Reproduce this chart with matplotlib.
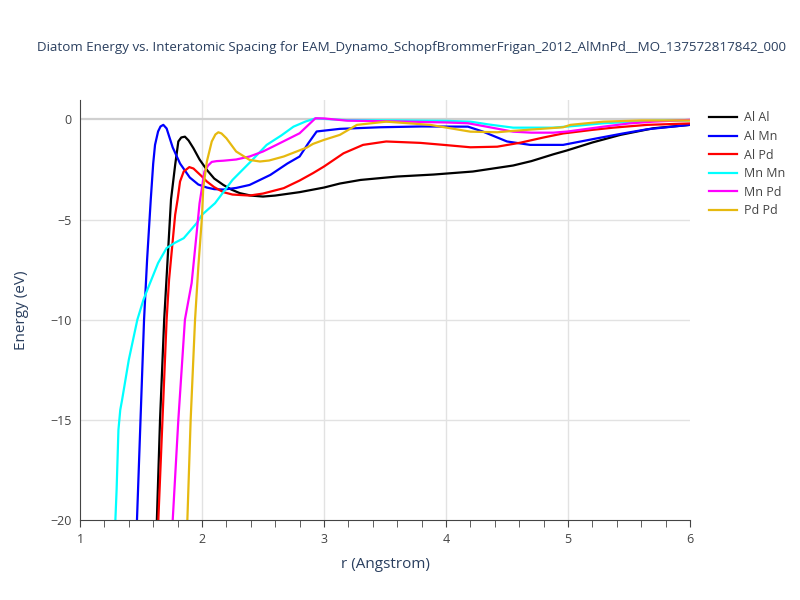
import numpy as np
import matplotlib
matplotlib.use("Agg")
import matplotlib.pyplot as plt
from matplotlib.ticker import MultipleLocator

# Energía del dímero vs. distancia interatómica
r_alal = [1.63, 1.656, 1.69, 1.746, 1.78, 1.806, 1.83, 1.86, 1.89, 1.93, 1.98, 2.04, 2.1, 2.175,
          2.24, 2.31, 2.4, 2.5, 2.6, 2.8, 3.0, 3.13, 3.3, 3.6, 3.9, 4.22, 4.55, 4.7, 4.88, 4.99,
          5.2, 5.43, 5.7, 6.0]
e_alal = [-20.0, -15.0, -10.0, -4.0, -2.27, -1.1, -0.9, -0.86, -1.05, -1.44, -2.0, -2.52, -2.95,
          -3.27, -3.5, -3.68, -3.8, -3.85, -3.8, -3.63, -3.4, -3.2, -3.02, -2.85, -2.75, -2.6,
          -2.3, -2.08, -1.74, -1.55, -1.15, -0.77, -0.44, -0.27]

r_almn = [1.467, 1.525, 1.55, 1.58, 1.6, 1.615, 1.64, 1.66, 1.683, 1.71, 1.76, 1.82, 1.9, 1.97,
          2.04, 2.1, 2.175, 2.28, 2.39, 2.56, 2.7, 2.8, 2.87, 2.94, 3.13, 3.46, 3.8, 4.18, 4.3,
          4.5, 4.69, 4.96, 5.24, 5.45, 5.65, 6.0]
e_almn = [-20.0, -10.0, -7.0, -4.0, -2.2, -1.27, -0.6, -0.35, -0.27, -0.45, -1.4, -2.2, -2.9,
          -3.25, -3.4, -3.48, -3.5, -3.42, -3.27, -2.77, -2.2, -1.85, -1.2, -0.6, -0.47, -0.39,
          -0.35, -0.36, -0.6, -1.1, -1.27, -1.27, -0.94, -0.7, -0.49, -0.27]

r_alpd = [1.642, 1.71, 1.73, 1.78, 1.8, 1.82, 1.85, 1.896, 1.93, 1.956, 2.0, 2.04, 2.1, 2.175,
          2.25, 2.39, 2.5, 2.67, 2.8, 2.91, 3.0, 3.16, 3.32, 3.51, 3.79, 4.0, 4.2, 4.42, 4.61,
          4.8, 4.96, 5.2, 5.37, 5.65, 6.0]
e_alpd = [-20.0, -10.0, -8.0, -4.76, -4.0, -3.1, -2.6, -2.38, -2.45, -2.6, -2.85, -3.1, -3.38,
          -3.63, -3.75, -3.8, -3.7, -3.43, -3.05, -2.68, -2.35, -1.69, -1.27, -1.1, -1.17,
          -1.28, -1.39, -1.36, -1.16, -0.9, -0.7, -0.52, -0.41, -0.27, -0.2]

r_mnmn = [1.29, 1.3, 1.315, 1.33, 1.345, 1.4, 1.47, 1.52, 1.574, 1.64, 1.71, 1.78, 1.85, 1.956,
          2.0, 2.107, 2.25, 2.4, 2.53, 2.65, 2.75, 2.85, 2.93, 3.2, 3.6, 4.0, 4.2, 4.35, 4.55,
          4.88, 5.1, 5.29, 5.7, 6.0]
e_mnmn = [-20.0, -18.5, -15.5, -14.5, -14.0, -12.0, -10.0, -9.0, -8.17, -7.17, -6.42, -6.15,
          -5.93, -5.18, -4.76, -4.18, -3.02, -2.1, -1.27, -0.8, -0.36, -0.1, 0.05, -0.04, -0.05,
          -0.07, -0.11, -0.25, -0.41, -0.41, -0.3, -0.19, -0.07, -0.05]

r_mnpd = [1.76, 1.806, 1.86, 1.915, 1.956, 1.98, 2.0, 2.02, 2.05, 2.08, 2.12, 2.175, 2.28, 2.39,
          2.5, 2.61, 2.8, 2.93, 3.0, 3.19, 3.6, 4.0, 4.18, 4.35, 4.55, 4.7, 4.88, 5.0, 5.29,
          5.5, 5.7, 6.0]
e_mnpd = [-20.0, -15.0, -10.0, -8.17, -5.68, -4.18, -3.4, -2.6, -2.3, -2.12, -2.08, -2.06,
          -2.0, -1.85, -1.6, -1.27, -0.69, 0.06, 0.05, -0.06, -0.1, -0.15, -0.19, -0.38, -0.61,
          -0.66, -0.66, -0.6, -0.36, -0.2, -0.11, -0.02]

r_pdpd = [1.88, 1.907, 1.943, 1.97, 2.0, 2.01, 2.04, 2.08, 2.11, 2.134, 2.16, 2.2, 2.28, 2.39,
          2.475, 2.55, 2.67, 2.86, 2.91, 3.0, 3.13, 3.27, 3.51, 3.87, 4.2, 4.42, 4.55, 4.96,
          5.02, 5.29, 5.6, 6.0]
e_pdpd = [-20.0, -15.0, -10.0, -7.34, -4.85, -3.43, -2.1, -1.1, -0.75, -0.64, -0.7, -0.94,
          -1.6, -2.02, -2.1, -2.05, -1.85, -1.4, -1.22, -1.02, -0.77, -0.27, -0.11, -0.27,
          -0.61, -0.64, -0.57, -0.39, -0.27, -0.11, -0.05, -0.05]

series = [
    ("Al Al", r_alal, e_alal, "black"),
    ("Al Mn", r_almn, e_almn, "#0000ff"),
    ("Al Pd", r_alpd, e_alpd, "#ff0000"),
    ("Mn Mn", r_mnmn, e_mnmn, "#00ffff"),
    ("Mn Pd", r_mnpd, e_mnpd, "#ff00ff"),
    ("Pd Pd", r_pdpd, e_pdpd, "#e6b90f"),
]

plt.rcParams['font.family'] = ['Open Sans', 'DejaVu Sans']

fig = plt.figure(figsize=(8, 6), dpi=100)
ax = fig.add_axes([0.1, 0.1333, 0.7625, 0.7])

for nombre, r, e, c in series:
    ax.plot(r, e, color=c, lw=1.6, label=nombre, clip_on=True)

ax.set_xlim(1, 6)
ax.set_ylim(-20, 0.97)

ax.set_xticks([1, 2, 3, 4, 5, 6])
ax.xaxis.set_minor_locator(MultipleLocator(0.2))
ax.set_yticks([-20, -15, -10, -5, 0])
ax.set_yticklabels(["\u221220", "\u221215", "\u221210", "\u22125", "0"])

for xv in [2, 3, 4, 5]:
    ax.axvline(xv, color="#e2e2e2", lw=1, zorder=0)
for yv in [-15, -10, -5]:
    ax.axhline(yv, color="#e2e2e2", lw=1, zorder=0)
ax.axhline(0, color="#d0d0d0", lw=1.6, zorder=0)

for s in ["top", "right"]:
    ax.spines[s].set_visible(False)
ax.spines["left"].set_color("#444444")
ax.spines["bottom"].set_color("#444444")

ax.tick_params(axis="x", which="both", direction="out", length=5, color="#444444",
               labelsize=9, labelcolor="#444444", pad=4)
ax.tick_params(axis="y", length=0, labelsize=9, labelcolor="#444444", pad=6)

ax.set_xlabel("r (Angstrom)", fontsize=11, color="#2a3f5f", labelpad=8)
ax.set_ylabel("Energy (eV)", fontsize=11, color="#2a3f5f", labelpad=15)

fig.suptitle("Diatom Energy vs. Interatomic Spacing for EAM_Dynamo_SchopfBrommerFrigan_2012_AlMnPd__MO_137572817842_000",
             x=0.514, y=0.932, fontsize=9.6, color="#2a3f5f")

ax.legend(loc="upper left", bbox_to_anchor=(1.012, 1.0), frameon=False, fontsize=9,
          handlelength=2.3, handletextpad=0.55, labelspacing=0.45, labelcolor="#444444")

fig.savefig("out.png", dpi=100)
